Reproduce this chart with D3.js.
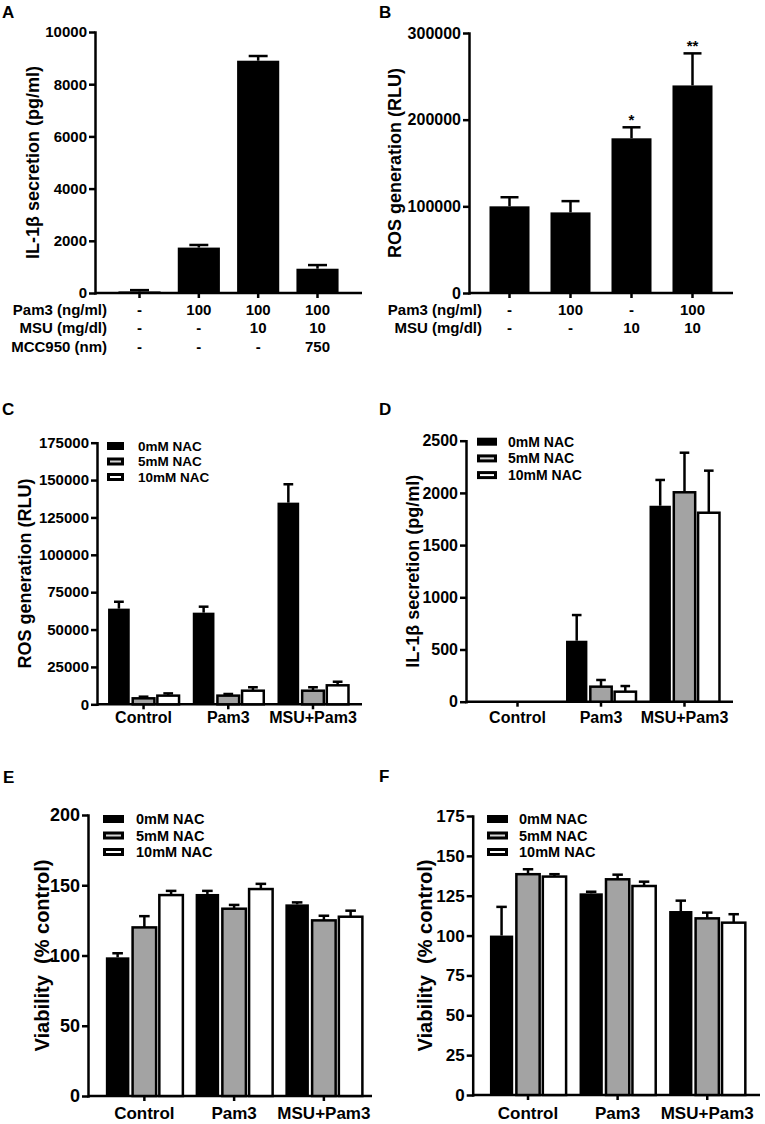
<!DOCTYPE html>
<html>
<head>
<meta charset="utf-8">
<script src="https://cdn.jsdelivr.net/npm/d3@7"></script>
<style>
  body { margin: 0; background: #fff; }
  svg { display: block; font-family: "Liberation Sans", Arial, sans-serif; font-weight: bold; }
</style>
</head>
<body>
<svg id="fig" width="765" height="1124"></svg>
<script>
/* DATA */

// Panel A - IL-1b secretion, single bars
const aPam3 = ["-", "100", "100", "100"];
const aMSU = ["-", "-", "10", "10"];
const aMCC = ["-", "-", "-", "750"];
const aMean = [60, 1740, 8900, 930];
const aSem = [50, 100, 180, 140];

// Panel B - ROS generation, single bars
const bPam3 = ["-", "100", "-", "100"];
const bMSU = ["-", "-", "10", "10"];
const bMean = [100000, 93000, 178500, 239500];
const bSem = [10500, 13000, 12700, 37000];
const bStars = ["", "", "*", "**"];

// Panels C-F share groups and series
const groups = ["Control", "Pam3", "MSU+Pam3"];
const series = ["0mM NAC", "5mM NAC", "10mM NAC"];
const seriesFill = ["#000", "#a3a3a3", "#fff"];
const legendFill = ["#000", "#d4d4d4", "#fff"];

// one row per series, one column per group
const cMean = [[64000, 61300, 134900], [4000, 5800, 9100], [5800, 9100, 12700]];
const cSem = [[4600, 4000, 12300], [1100, 1100, 2300], [1500, 2300, 2400]];

const dMean = [[0, 584, 1877], [0, 144, 2006], [0, 96, 1810]];
const dSem = [[0, 246, 247], [0, 64, 379], [0, 54, 403]];

const eMean = [[98.7, 143.8, 136.4], [120, 133.3, 125], [143, 147.3, 127.6]];
const eSem = [[2.9, 2.2, 1.4], [8, 2.7, 3.3], [3, 3.7, 4.3]];

const fMean = [[100, 126.5, 115.4], [138.5, 135.3, 110.8], [137, 131.1, 108.1]];
const fSem = [[18, 1, 6.5], [3.1, 2.9, 3.6], [1.5, 2.7, 5.3]];


/* LAYOUT */
const panels = {
  A: { letter: "A", letterX: 2, letterY: 18, left: 95, right: 362, top: 32, bottom: 293,
       max: 10000, step: 2000, tickFont: 15, title: "IL-1β secretion (pg/ml)", titleFont: 18, titleX: 33,
       pi: 0.29, po: 0.395, align: 0.5, rowLabelX: 107, rowFont: 15 },
  B: { letter: "B", letterX: 379, letterY: 18, left: 469, right: 733, top: 33, bottom: 293,
       max: 300000, step: 100000, tickFont: 16, title: "ROS generation (RLU)", titleFont: 18, titleX: 395,
       pi: 0.344, po: 0.336, align: 0.5, rowLabelX: 482, rowFont: 15 },
  C: { letter: "C", letterX: 2, letterY: 415, left: 97, right: 362, top: 442.7, bottom: 704.3,
       max: 175000, step: 25000, tickFont: 15, title: "ROS generation (RLU)", titleFont: 18, titleX: 25,
       pi: 0.162, po: 0.145, align: 0.45, catFont: 16, catPad: 2.5,
       legX: 107, legY: 446, legGap: 15.5, swW: 17, legTextX: 138, legFont: 13.5 },
  D: { letter: "D", letterX: 379, letterY: 415, left: 466, right: 733, top: 440.7, bottom: 701.7,
       max: 2500, step: 500, tickFont: 16, title: "IL-1β secretion (pg/ml)", titleFont: 18, titleX: 413,
       pi: 0.162, po: 0.18, align: 0.55, catFont: 16, catPad: 4.5,
       legX: 477, legY: 441.7, legGap: 16.7, swW: 20, legTextX: 508, legFont: 14 },
  E: { letter: "E", letterX: 3, letterY: 783, left: 88, right: 372, top: 815, bottom: 1096,
       max: 200, step: 50, tickFont: 18, title: "Viability  (% control)", titleFont: 20, titleX: 42,
       pi: 0.142, po: 0.153, align: 0.65, catFont: 17, catPad: 6,
       legX: 103, legY: 819, legGap: 16.5, swW: 21, legTextX: 136, legFont: 14.5 },
  F: { letter: "F", letterX: 379, letterY: 782, left: 472.7, right: 760, top: 816, bottom: 1095,
       max: 175, step: 25, tickFont: 17, title: "Viability  (% control)", titleFont: 20, titleX: 425,
       pi: 0.15, po: 0.178, align: 0.54, catFont: 17, catPad: 7,
       legX: 487, legY: 819, legGap: 16.5, swW: 21, legTextX: 519, legFont: 14.5 }
};

const STROKE = 2.5;
const LEG_STROKE = 3;
const fig = d3.select("#fig");


/* AXES, TITLE, LETTER */
function frame(p) {
  const g = fig.append("g");

  const y = d3.scaleLinear()
    .domain([0, p.max])
    .range([p.bottom, p.top]);

  const yAxis = g.append("g")
    .attr("transform", `translate(${p.left},0)`)
    .call(d3.axisLeft(y)
      .tickValues(d3.range(0, p.max + 1, p.step))
      .tickFormat(d3.format("d"))
      .tickSize(6)
      .tickSizeOuter(0)
      .tickPadding(2));

  yAxis.attr("font-family", null).attr("font-size", p.tickFont);
  yAxis.select(".domain").attr("stroke-width", STROKE).attr("stroke-linecap", "square");
  yAxis.selectAll(".tick line").attr("stroke-width", STROKE);
  yAxis.selectAll(".tick text").attr("fill", "#000");

  // x baseline
  g.append("line")
    .attr("x1", p.left)
    .attr("x2", p.right)
    .attr("y1", p.bottom)
    .attr("y2", p.bottom)
    .attr("stroke", "#000")
    .attr("stroke-width", STROKE);

  // y title
  g.append("text")
    .attr("transform", `translate(${p.titleX},${(p.top + p.bottom) / 2}) rotate(-90)`)
    .attr("text-anchor", "middle")
    .attr("dy", "0.35em")
    .attr("font-size", p.titleFont)
    .style("white-space", "pre")
    .text(p.title);

  // panel letter
  g.append("text")
    .attr("x", p.letterX)
    .attr("y", p.letterY)
    .attr("font-size", 17)
    .text(p.letter);

  return { g, y };
}

function errorBars(g, data, y, xc, capW) {
  const eb = g.selectAll("g.err")
    .data(data.filter(d => d.e > 0))
    .join("g")
    .attr("class", "err")
    .attr("stroke", "#000")
    .attr("stroke-width", STROKE);

  eb.append("line")
    .attr("x1", xc)
    .attr("x2", xc)
    .attr("y1", d => y(d.v))
    .attr("y2", d => y(d.v + d.e));

  eb.append("line")
    .attr("x1", d => xc(d) - capW / 2)
    .attr("x2", d => xc(d) + capW / 2)
    .attr("y1", d => y(d.v + d.e))
    .attr("y2", d => y(d.v + d.e));
}


/* SINGLE BAR PANELS (A, B) */
function drawSimple(p, means, sems, rows, stars) {
  const { g, y } = frame(p);

  const x = d3.scaleBand()
    .domain(d3.range(means.length))
    .range([p.left, p.right])
    .paddingInner(p.pi)
    .paddingOuter(p.po)
    .align(p.align);

  const data = means.map((v, i) => ({ i, v, e: sems[i] }));

  // tick marks under bars
  const xAxis = g.append("g")
    .attr("transform", `translate(0,${p.bottom})`)
    .call(d3.axisBottom(x).tickSize(5).tickFormat(""));
  xAxis.select(".domain").remove();
  xAxis.selectAll(".tick line").attr("stroke-width", STROKE);

  errorBars(g, data, y, d => x(d.i) + x.bandwidth() / 2, x.bandwidth() * 0.45);

  g.selectAll("rect.bar")
    .data(data)
    .join("rect")
    .attr("class", "bar")
    .attr("x", d => x(d.i))
    .attr("width", x.bandwidth())
    .attr("y", d => y(d.v))
    .attr("height", d => y(0) - y(d.v))
    .attr("fill", "#000");

  // condition rows under axis
  rows.forEach((row, r) => {
    const ry = p.bottom + 22 + r * 18.3;
    g.append("text")
      .attr("x", p.rowLabelX)
      .attr("y", ry)
      .attr("text-anchor", "end")
      .attr("font-size", p.rowFont)
      .text(row.label);

    g.selectAll(`text.row${r}`)
      .data(row.values)
      .join("text")
      .attr("class", `row${r}`)
      .attr("x", (d, i) => x(i) + x.bandwidth() / 2)
      .attr("y", ry)
      .attr("text-anchor", "middle")
      .attr("font-size", p.rowFont)
      .text(d => d);
  });

  if (stars) {
    g.selectAll("text.star")
      .data(data.filter(d => stars[d.i]))
      .join("text")
      .attr("class", "star")
      .attr("x", d => x(d.i) + x.bandwidth() / 2)
      .attr("y", d => y(d.v + d.e) - 2)
      .attr("text-anchor", "middle")
      .attr("font-size", 15)
      .text(d => stars[d.i]);
  }
}


/* GROUPED BAR PANELS (C-F) */
function drawGrouped(p, means, sems) {
  const { g, y } = frame(p);

  const x0 = d3.scaleBand()
    .domain(groups)
    .range([p.left, p.right])
    .paddingInner(p.pi)
    .paddingOuter(p.po)
    .align(p.align);

  const x1 = d3.scaleBand()
    .domain(d3.range(series.length))
    .range([0, x0.bandwidth()])
    .paddingInner(0.12);

  const data = [];
  series.forEach((s, si) => {
    groups.forEach((grp, gi) => {
      data.push({ grp, si, v: means[si][gi], e: sems[si][gi] });
    });
  });

  const xAxis = g.append("g")
    .attr("transform", `translate(0,${p.bottom})`)
    .call(d3.axisBottom(x0).tickSize(5).tickPadding(p.catPad));
  xAxis.attr("font-family", null).attr("font-size", p.catFont);
  xAxis.select(".domain").remove();
  xAxis.selectAll(".tick line").attr("stroke-width", STROKE);
  xAxis.selectAll(".tick text").attr("fill", "#000");

  const xc = d => x0(d.grp) + x1(d.si) + x1.bandwidth() / 2;
  errorBars(g, data, y, xc, x1.bandwidth() * 0.45);

  g.selectAll("rect.bar")
    .data(data.filter(d => d.v > 0))
    .join("rect")
    .attr("class", "bar")
    .attr("x", d => x0(d.grp) + x1(d.si))
    .attr("width", x1.bandwidth())
    .attr("y", d => y(d.v))
    .attr("height", d => y(0) - y(d.v))
    .attr("fill", d => seriesFill[d.si])
    .attr("stroke", "#000")
    .attr("stroke-width", d => d.si === 0 ? 0 : STROKE);

  // legend
  const leg = g.selectAll("g.leg")
    .data(series)
    .join("g")
    .attr("class", "leg")
    .attr("transform", (d, i) => `translate(0,${p.legY + i * p.legGap})`);

  leg.append("rect")
    .attr("x", p.legX + LEG_STROKE / 2)
    .attr("y", -2.5)
    .attr("width", p.swW - LEG_STROKE)
    .attr("height", 5)
    .attr("fill", (d, i) => legendFill[i])
    .attr("stroke", "#000")
    .attr("stroke-width", LEG_STROKE);

  leg.append("text")
    .attr("x", p.legTextX)
    .attr("dy", "0.35em")
    .attr("font-size", p.legFont)
    .text(d => d);
}


drawSimple(panels.A, aMean, aSem, [
  { label: "Pam3 (ng/ml)", values: aPam3 },
  { label: "MSU (mg/dl)", values: aMSU },
  { label: "MCC950 (nm)", values: aMCC }
]);

drawSimple(panels.B, bMean, bSem, [
  { label: "Pam3 (ng/ml)", values: bPam3 },
  { label: "MSU (mg/dl)", values: bMSU }
], bStars);

drawGrouped(panels.C, cMean, cSem);
drawGrouped(panels.D, dMean, dSem);
drawGrouped(panels.E, eMean, eSem);
drawGrouped(panels.F, fMean, fSem);
</script>
</body>
</html>
